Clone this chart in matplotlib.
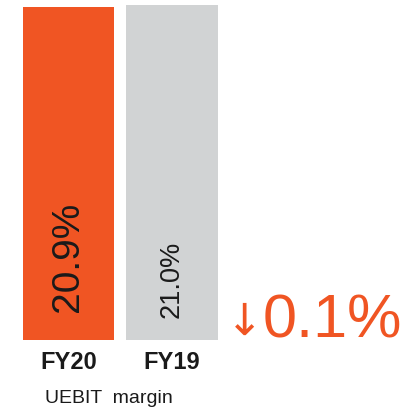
import matplotlib
matplotlib.use("Agg")
import matplotlib.pyplot as plt

# data
years = ["FY20", "FY19"]
margins = [20.9, 21.0]
bar_labels = ["20.9%", "21.0%"]
change_label = "0.1%"
metric_name = "UEBIT  margin"

orange = "#F05523"
grey = "#D1D3D4"

plt.rcParams["font.family"] = ["Liberation Sans", "DejaVu Sans"]

W, H = 403, 407
fig = plt.figure(figsize=(W / 100, H / 100), dpi=100)
# axes spans the bar area (pixel rows 5..340)
ax = fig.add_axes([0, (H - 340) / H, 1, 335 / H])

xs = [0, 1]
ax.bar(xs, margins, width=0.88, color=[orange, grey])
ax.set_xlim(-68.5 / 103.5, (W - 68.5) / 103.5)
ax.set_ylim(0, max(margins))
ax.axis("off")

# values written inside the bars
sizes = [28, 19.5]
offsets = [20, 16]
for x, lab, fs, off in zip(xs, bar_labels, sizes, offsets):
    ax.annotate(lab, (x, 0), xytext=(0, off), textcoords="offset points",
                rotation=90, ha="center", va="bottom", fontsize=fs,
                color="#1a1a1a")

# category names under the bars
for x, lab in zip(xs, years):
    ax.annotate(lab, (x, 0), xytext=(0, -8), textcoords="offset points",
                ha="center", va="top", fontsize=17, fontweight="bold",
                color="#1a1a1a")

fig.text(109 / W, (H - 403) / H, metric_name, ha="center", va="baseline",
         fontsize=14, color="#1a1a1a")

# change vs previous year
fig.text(226 / W, (H - 335) / H, "\u2193", ha="left", va="baseline",
         fontsize=32, color=orange, family="DejaVu Sans")
fig.text(263 / W, (H - 338) / H, change_label, ha="left", va="baseline",
         fontsize=44, color=orange)

fig.savefig("out.png", dpi=100)
